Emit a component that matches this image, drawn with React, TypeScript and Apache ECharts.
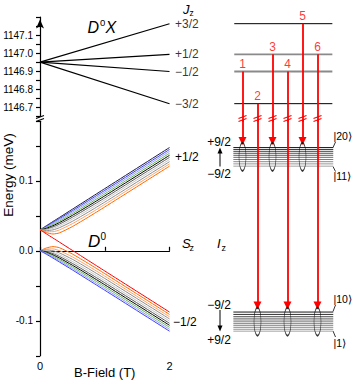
import React, { useEffect, useRef } from "react";
import * as echarts from "echarts";

const FONT = "'Liberation Sans', Arial, Helvetica, sans-serif";
const RED = "#ff0000";

// ---------- data ----------
// magnetic field sample points (T)
const bField = [0, 0.05, 0.1, 0.2, 0.3, 0.5, 0.75, 1, 2];

// D0X exciton levels (meV): value at 0 T and at 2 T for each Jz
const dxZeroField = 1146.95;
const dxJzLabels = ["+3/2", "+1/2", "\u22121/2", "\u22123/2"];
const dxAt2T = [1147.163, 1146.993, 1146.898, 1146.72];

// D0 Sz=+1/2 branch, mF = +5 ... -4 (meV, relative)
const upperM = [5, 4, 3, 2, 1, 0, -1, -2, -3, -4];
const upperEnergies = [
  [0.03, 0.0329, 0.0359, 0.0418, 0.0476, 0.0594, 0.0741, 0.0888, 0.1475],
  [0.03, 0.0324, 0.035, 0.0404, 0.046, 0.0573, 0.0718, 0.0863, 0.1448],
  [0.03, 0.0319, 0.0341, 0.039, 0.0442, 0.0552, 0.0694, 0.0838, 0.1421],
  [0.03, 0.0314, 0.0332, 0.0375, 0.0423, 0.053, 0.0669, 0.0812, 0.1393],
  [0.03, 0.0309, 0.0322, 0.0358, 0.0403, 0.0506, 0.0643, 0.0785, 0.1364],
  [0.03, 0.0303, 0.0311, 0.0341, 0.0381, 0.048, 0.0616, 0.0756, 0.1335],
  [0.03, 0.0297, 0.03, 0.0321, 0.0357, 0.0452, 0.0586, 0.0727, 0.1304],
  [0.03, 0.0291, 0.0288, 0.0299, 0.033, 0.0421, 0.0555, 0.0695, 0.1273],
  [0.03, 0.0284, 0.0274, 0.0273, 0.0298, 0.0387, 0.0521, 0.0662, 0.1242],
  [0.03, 0.0278, 0.0259, 0.024, 0.0256, 0.0346, 0.0483, 0.0626, 0.1209],
];

// D0 Sz=-1/2 branch, mF = -5 ... +4
const lowerM = [-5, -4, -3, -2, -1, 0, 1, 2, 3, 4];
const lowerEnergies = [
  [0.03, 0.0271, 0.0241, 0.0183, 0.0124, 0.0006, -0.0141, -0.0288, -0.0875],
  [0, 0.0022, 0.0041, 0.006, 0.0044, -0.0046, -0.0183, -0.0326, -0.0909],
  [0, 0.0016, 0.0026, 0.0027, 0.0002, -0.0087, -0.0221, -0.0362, -0.0942],
  [0, 0.0009, 0.0012, 0.0001, -0.003, -0.0121, -0.0255, -0.0395, -0.0973],
  [0, 0.0003, 0, -0.0021, -0.0057, -0.0152, -0.0286, -0.0427, -0.1004],
  [0, -0.0003, -0.0011, -0.0041, -0.0081, -0.018, -0.0316, -0.0456, -0.1035],
  [0, -0.0009, -0.0022, -0.0058, -0.0103, -0.0206, -0.0343, -0.0485, -0.1064],
  [0, -0.0014, -0.0032, -0.0075, -0.0123, -0.023, -0.0369, -0.0512, -0.1093],
  [0, -0.0019, -0.0041, -0.009, -0.0142, -0.0252, -0.0394, -0.0538, -0.1121],
  [0, -0.0024, -0.005, -0.0104, -0.016, -0.0273, -0.0418, -0.0563, -0.1148],
];

const mValues = [-5, -4, -3, -2, -1, 0, 1, 2, 3, 4, 5];
const mColors = [
  "#ff0000", "#ff6a00", "#ffa366", "#8c8c8c", "#c4c4c4", "#5a5a5a",
  "#000000", "#66b84a", "#8f9bff", "#3b3bff", "#1a1a40",
];

// right-hand level scheme
const dxLevelColors = ["#000000", "#8a8a8a", "#8a8a8a", "#000000"];
const manifoldColors = [
  "#1a1a1a", "#333333", "#474747", "#555555", "#636363",
  "#707070", "#7d7d7d", "#8a8a8a", "#969696", "#a3a3a3",
];
const transitionIds = ["1", "2", "3", "4", "5", "6"];
const transitionFrom = [2, 3, 1, 2, 0, 1]; // index into dxAt2T
const transitionToUpper = [true, false, true, false, true, false];

// ---------- layout ----------
const GL = 40;
const GW = 129.5;
const UP_TOP = 17;
const UP_H = 99.3;
const LO_TOP = 121.3;
const LO_H = 234.5;
const R_LEFT = 227.5;
const R_W = 110;
const UP_MIN = 1146.65;
const UP_MAX = 1147.2;
const LO_MIN = -0.15;
const LO_MAX = 0.185;

const colorOf = (m: number) => mColors[mValues.indexOf(m)];

function txt(x: number, y: number, text: string, size: number, opts: any = {}) {
  return {
    type: "text",
    x,
    y,
    rotation: opts.rotation || 0,
    silent: true,
    style: {
      text,
      fill: opts.fill || "#000",
      fontSize: size,
      fontFamily: FONT,
      fontStyle: opts.italic ? "italic" : "normal",
      align: opts.align || "left",
      verticalAlign: "middle",
    },
  };
}

function seg(x1: number, y1: number, x2: number, y2: number, w = 1) {
  return {
    type: "line",
    silent: true,
    shape: { x1, y1, x2, y2 },
    style: { stroke: "#000", lineWidth: w },
  };
}

function breakMark(color: string) {
  return (_params: any, api: any) => {
    const p = api.coord([api.value(0), api.value(1)]);
    return {
      type: "group",
      children: [
        {
          type: "line",
          shape: { x1: p[0] - 4, y1: p[1] - 0.5, x2: p[0] + 4, y2: p[1] - 3.5 },
          style: { stroke: color, lineWidth: 1.2 },
        },
        {
          type: "line",
          shape: { x1: p[0] - 4, y1: p[1] + 2.5, x2: p[0] + 4, y2: p[1] - 0.5 },
          style: { stroke: color, lineWidth: 1.2 },
        },
      ],
    };
  };
}

export default function App() {
  const ref = useRef<HTMLDivElement>(null);

  useEffect(() => {
    if (!ref.current) return;
    const chart = echarts.init(ref.current, undefined, { renderer: "svg" });

    const upperTop = Math.max(...upperEnergies.map((r) => r[r.length - 1]));
    const upperBot = Math.min(...upperEnergies.map((r) => r[r.length - 1]));
    const lowerTop = Math.max(...lowerEnergies.map((r) => r[r.length - 1]));
    const lowerBot = Math.min(...lowerEnergies.map((r) => r[r.length - 1]));
    const upperCenter = (upperTop + upperBot) / 2;
    const lowerCenter = (lowerTop + lowerBot) / 2;
    const arrowHead = 0.0095;

    const series: any[] = [];

    // D0X Zeeman lines
    dxAt2T.forEach((e) => {
      series.push({
        type: "line",
        xAxisIndex: 0,
        yAxisIndex: 0,
        data: [
          [0, dxZeroField],
          [2, e],
        ],
        symbol: "none",
        silent: true,
        lineStyle: { color: "#000", width: 1.1 },
        z: 3,
      });
    });
    // Jz labels at the 2 T ends
    series.push({
      type: "scatter",
      xAxisIndex: 0,
      yAxisIndex: 0,
      silent: true,
      symbolSize: 1,
      itemStyle: { color: "rgba(0,0,0,0)" },
      label: {
        show: true,
        position: "right",
        distance: 5,
        formatter: "{b}",
        color: "#000",
        fontSize: 12,
        fontFamily: FONT,
      },
      data: dxAt2T.map((e, i) => ({ name: dxJzLabels[i], value: [2, e] })),
      z: 8,
    });

    // D0 curves
    const addCurve = (vals: number[], m: number) =>
      series.push({
        type: "line",
        xAxisIndex: 1,
        yAxisIndex: 1,
        data: bField.map((b, j) => [b, vals[j]]),
        symbol: "none",
        smooth: 0.2,
        silent: true,
        lineStyle: { color: colorOf(m), width: 1 },
        z: 3,
      });
    upperEnergies.forEach((v, i) => addCurve(v, upperM[i]));
    lowerEnergies.slice(1).forEach((v, i) => addCurve(v, lowerM[i + 1]));
    addCurve(lowerEnergies[0], lowerM[0]);

    // right: D0X levels
    dxAt2T.forEach((e, i) => {
      series.push({
        type: "line",
        xAxisIndex: 2,
        yAxisIndex: 2,
        data: [
          [0.45, e],
          [6.99, e],
        ],
        symbol: "none",
        silent: true,
        lineStyle: { color: dxLevelColors[i], width: i === 1 || i === 2 ? 1.8 : 1 },
        z: 3,
      });
    });

    // right: D0 hyperfine manifolds
    const addManifold = (vals: number[]) =>
      vals
        .slice()
        .sort((a, b) => b - a)
        .forEach((e, i) =>
          series.push({
            type: "line",
            xAxisIndex: 3,
            yAxisIndex: 3,
            data: [
              [0.39, e],
              [7.05, e],
            ],
            symbol: "none",
            silent: true,
            lineStyle: { color: manifoldColors[i], width: 1 },
            z: 3,
          })
        );
    addManifold(upperEnergies.map((r) => r[r.length - 1]));
    addManifold(lowerEnergies.map((r) => r[r.length - 1]));

    // transitions: upper segment
    series.push({
      type: "lines",
      coordinateSystem: "cartesian2d",
      xAxisIndex: 2,
      yAxisIndex: 2,
      clip: false,
      silent: true,
      symbol: "none",
      lineStyle: { color: RED, width: 1.8, opacity: 1 },
      data: transitionIds.map((_, i) => ({
        coords: [
          [i + 1, dxAt2T[transitionFrom[i]]],
          [i + 1, UP_MIN - 0.03],
        ],
      })),
      z: 5,
    });
    // transitions: lower segment with arrow head
    series.push({
      type: "lines",
      coordinateSystem: "cartesian2d",
      xAxisIndex: 3,
      yAxisIndex: 3,
      clip: false,
      silent: true,
      symbol: ["none", "triangle"],
      symbolSize: 8,
      lineStyle: { color: RED, width: 1.8, opacity: 1 },
      data: transitionIds.map((_, i) => ({
        coords: [
          [i + 1, LO_MAX + 0.002],
          [i + 1, (transitionToUpper[i] ? upperTop : lowerTop) + arrowHead],
        ],
      })),
      z: 5,
    });

    // break marks
    series.push({
      type: "custom",
      coordinateSystem: "cartesian2d",
      xAxisIndex: 2,
      yAxisIndex: 2,
      silent: true,
      clip: false,
      data: transitionIds.map((_, i) => [i + 1, UP_MIN - 0.015]),
      renderItem: breakMark(RED),
      z: 6,
    });
    series.push({
      type: "custom",
      coordinateSystem: "cartesian2d",
      xAxisIndex: 0,
      yAxisIndex: 0,
      silent: true,
      clip: false,
      data: [[0, UP_MIN - 0.015]],
      renderItem: breakMark("#000"),
      z: 6,
    });

    // ellipses
    series.push({
      type: "scatter",
      xAxisIndex: 3,
      yAxisIndex: 3,
      silent: true,
      symbol: "circle",
      symbolSize: [7, 28],
      itemStyle: { color: "rgba(0,0,0,0)", borderColor: "#000", borderWidth: 1 },
      data: transitionIds.map((_, i) => [i + 1, transitionToUpper[i] ? upperCenter : lowerCenter]),
      z: 7,
    });

    // transition numbers
    series.push({
      type: "scatter",
      xAxisIndex: 2,
      yAxisIndex: 2,
      silent: true,
      symbolSize: 1,
      itemStyle: { color: "rgba(0,0,0,0)" },
      label: {
        show: true,
        position: "top",
        distance: 1,
        formatter: "{b}",
        color: RED,
        fontSize: 12,
        fontFamily: FONT,
      },
      data: transitionIds.map((id, i) => ({ name: id, value: [i + 1, dxAt2T[transitionFrom[i]]] })),
      z: 8,
    });

    const axisLineStyle = { color: "#000", width: 1.2 };
    const labelStyle = { color: "#000", fontSize: 10, fontFamily: FONT, margin: 7 };

    const graphic: any[] = [
      txt(87.5, 27.5, "D", 16, { italic: true }),
      txt(100, 22, "0", 9.5),
      txt(105.5, 27.5, "X", 16, { italic: true }),
      txt(88, 241.5, "D", 17, { italic: true }),
      txt(100.5, 236, "0", 10),
      txt(183, 9.5, "J", 13, { italic: true }),
      txt(189.5, 13, "z", 8.5),
      txt(182, 243.5, "S", 13, { italic: true }),
      txt(189.5, 248, "z", 9),
      txt(217, 243.5, "I", 13, { italic: true }),
      txt(221.5, 248, "z", 9),
      txt(175, 156.5, "+1/2", 12),
      txt(173, 322, "\u22121/2", 12),
      txt(219, 141.5, "+9/2", 12, { align: "center" }),
      txt(219, 173.5, "\u22129/2", 12, { align: "center" }),
      txt(219, 305, "\u22129/2", 12, { align: "center" }),
      txt(219, 340, "+9/2", 12, { align: "center" }),
      txt(333.5, 136, "|20\u27e9", 10.5),
      txt(333.5, 176, "|11\u27e9", 10.5),
      txt(333.5, 299, "|10\u27e9", 10.5),
      txt(333.5, 342.5, "|1\u27e9", 10.5),
      txt(8, 175, "Energy (meV)", 13.5, { align: "center", rotation: Math.PI / 2 }),
      txt(104.75, 372.5, "B-Field (T)", 13, { align: "center" }),
      seg(220, 166.5, 220, 151),
      {
        type: "polygon",
        silent: true,
        shape: { points: [[220, 147.5], [217.5, 153.5], [222.5, 153.5]] },
        style: { fill: "#000" },
      },
      seg(220, 310, 220, 327),
      {
        type: "polygon",
        silent: true,
        shape: { points: [[220, 331.5], [217.5, 325.5], [222.5, 325.5]] },
        style: { fill: "#000" },
      },
      seg(333, 147.5, 335.5, 142, 0.8),
      seg(333, 166.5, 335.5, 171.5, 0.8),
      seg(333, 311.5, 335.5, 305, 0.8),
      seg(333, 331, 335.5, 337, 0.8),
    ];

    chart.setOption({
      animation: false,
      backgroundColor: "#fff",
      textStyle: { fontFamily: FONT },
      grid: [
        { left: GL, top: UP_TOP, width: GW, height: UP_H },
        { left: GL, top: LO_TOP, width: GW, height: LO_H },
        { left: R_LEFT, top: UP_TOP, width: R_W, height: UP_H },
        { left: R_LEFT, top: LO_TOP, width: R_W, height: LO_H },
      ],
      xAxis: [
        { gridIndex: 0, type: "value", min: 0, max: 2, show: false },
        {
          gridIndex: 1,
          type: "value",
          min: 0,
          max: 2,
          interval: 1,
          axisLine: { show: true, lineStyle: axisLineStyle },
          axisTick: { show: true, inside: true, length: 4, lineStyle: axisLineStyle },
          axisLabel: {
            color: "#000",
            fontSize: 11,
            fontFamily: FONT,
            margin: 5,
            formatter: (v: number) => (v === 1 ? "" : String(v)),
          },
          splitLine: { show: false },
        },
        { gridIndex: 2, type: "value", min: 0, max: R_W / 15, show: false },
        { gridIndex: 3, type: "value", min: 0, max: R_W / 15, show: false },
      ],
      yAxis: [
        {
          gridIndex: 0,
          type: "value",
          min: UP_MIN,
          max: UP_MAX,
          interval: 0.05,
          axisLine: {
            show: true,
            lineStyle: axisLineStyle,
            symbol: ["none", "arrow"],
            symbolSize: [6, 9],
            symbolOffset: [0, -2.5],
          },
          axisTick: { show: true, length: 4, lineStyle: axisLineStyle },
          axisLabel: {
            ...labelStyle,
            formatter: (v: number) => {
              const r = Math.round(v * 100);
              if (r % 10 !== 0 || v > 1147.15) return "";
              return (r / 100).toFixed(1);
            },
          },
          splitLine: { show: false },
        },
        {
          gridIndex: 1,
          type: "value",
          min: LO_MIN,
          max: LO_MAX,
          interval: 0.05,
          axisLine: { show: true, lineStyle: axisLineStyle },
          axisTick: { show: true, length: 4, lineStyle: axisLineStyle },
          axisLabel: {
            ...labelStyle,
            formatter: (v: number) => {
              const r = Math.round(v * 100);
              if (r !== -10 && r !== 0 && r !== 10) return "";
              return (Math.round(v * 10) / 10).toFixed(1);
            },
          },
          splitLine: { show: false },
        },
        { gridIndex: 2, type: "value", min: UP_MIN, max: UP_MAX, show: false },
        { gridIndex: 3, type: "value", min: LO_MIN, max: LO_MAX, show: false },
      ],
      series,
      graphic,
    });

    return () => chart.dispose();
  }, []);

  return (
    <div
      ref={ref}
      style={{ position: "fixed", left: 0, top: 0, width: 353, height: 381, background: "#fff" }}
    />
  );
}
